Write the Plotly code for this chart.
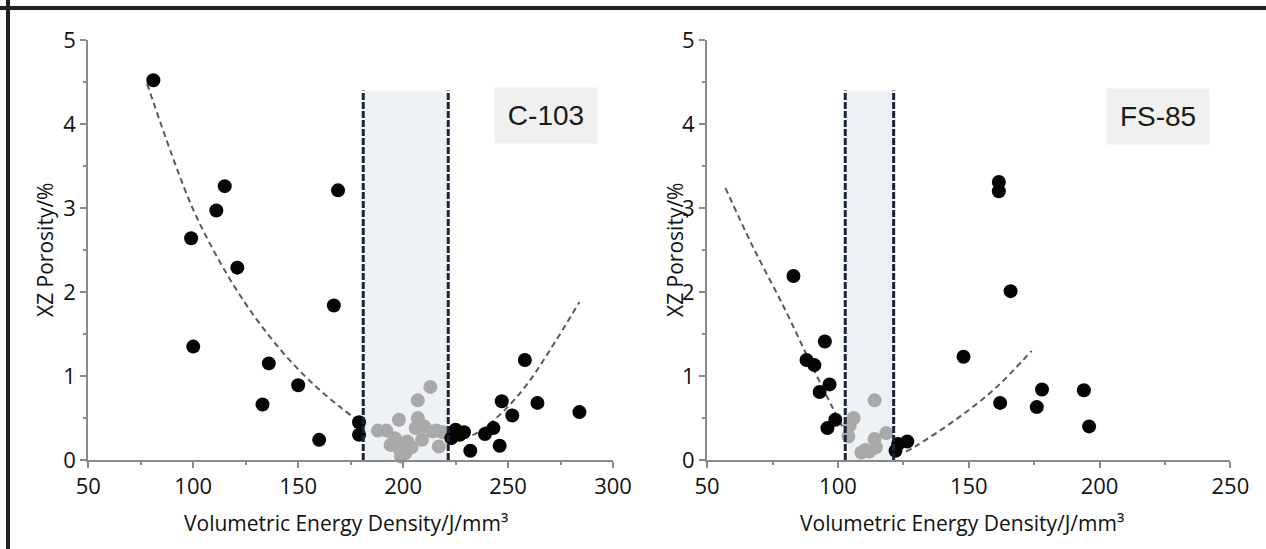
import plotly.graph_objects as go

# ---------------- data ----------------
# C-103
c103_out_x = [81, 99, 100, 111, 115, 121, 133, 136, 150, 160, 167, 169, 179, 179,
              223, 225, 227, 229, 232, 239, 243, 246, 247, 252, 258, 264, 284]
c103_out_y = [4.52, 2.64, 1.35, 2.97, 3.26, 2.29, 0.66, 1.15, 0.89, 0.24, 1.84, 3.21, 0.45, 0.30,
              0.26, 0.36, 0.30, 0.33, 0.11, 0.31, 0.38, 0.17, 0.70, 0.53, 1.19, 0.68, 0.57]
c103_in_x = [188, 192, 194, 196, 198, 198, 199, 201, 202, 204, 206, 207, 207,
             209, 210, 213, 214, 216, 217, 219]
c103_in_y = [0.35, 0.35, 0.18, 0.26, 0.48, 0.14, 0.04, 0.08, 0.22, 0.15, 0.38, 0.50, 0.71,
             0.24, 0.40, 0.87, 0.34, 0.35, 0.16, 0.33]
c103_fit_lo_x = [78, 90, 100, 110, 120, 130, 140, 150, 160, 170, 180]
c103_fit_lo_y = [4.48, 3.62, 2.98, 2.48, 2.05, 1.68, 1.36, 1.08, 0.84, 0.63, 0.44]
c103_fit_hi_x = [224, 235, 247, 259, 270, 284]
c103_fit_hi_y = [0.22, 0.32, 0.56, 0.90, 1.31, 1.88]
c103_window = [181, 221.5]

# FS-85
fs85_out_x = [83, 88, 91, 93, 95, 96, 96.8, 99, 122, 123, 126.5,
              148, 161.5, 161.5, 162, 166, 176, 178, 194, 196]
fs85_out_y = [2.19, 1.19, 1.13, 0.81, 1.41, 0.38, 0.90, 0.48, 0.11, 0.19, 0.22,
              1.23, 3.31, 3.20, 0.68, 2.01, 0.63, 0.84, 0.83, 0.40]
fs85_in_x = [104, 104.5, 106, 109, 110.5, 112, 114, 114, 114.5, 118.5]
fs85_in_y = [0.28, 0.41, 0.50, 0.09, 0.12, 0.10, 0.71, 0.25, 0.15, 0.32]
fs85_fit_lo_x = [57, 67, 79.5, 89, 98, 104]
fs85_fit_lo_y = [3.24, 2.57, 1.81, 1.19, 0.62, 0.26]
fs85_fit_hi_x = [126, 130, 145, 160, 174]
fs85_fit_hi_y = [0.10, 0.17, 0.48, 0.85, 1.30]
fs85_window = [102.8, 121.3]

window_top = 4.4

# ---------------- styling ----------------
W, H = 1266, 549
BLACK = "#050505"
GREY_PT = "#a9a9a9"
FIT = "#5a5a5a"
NAVY = "#1b2436"
BAND = "#eef1f5"
AXIS = "#8a8a8a"
TICKFONT = dict(family="Open Sans", size=22, color="#111111")
TITLEFONT = dict(family="Open Sans", size=21, color="#111111")

fig = go.Figure()


def panel(xa, ya, out_x, out_y, in_x, in_y, lo_x, lo_y, hi_x, hi_y):
    for fx, fy in ((lo_x, lo_y), (hi_x, hi_y)):
        fig.add_trace(go.Scatter(x=fx, y=fy, mode="lines", xaxis=xa, yaxis=ya,
                                 line=dict(color=FIT, width=2, dash="6px,4px", shape="spline"),
                                 hoverinfo="skip", cliponaxis=False))
    fig.add_trace(go.Scatter(x=in_x, y=in_y, mode="markers", xaxis=xa, yaxis=ya,
                             marker=dict(color=GREY_PT, size=14, line=dict(width=0)),
                             cliponaxis=False))
    fig.add_trace(go.Scatter(x=out_x, y=out_y, mode="markers", xaxis=xa, yaxis=ya,
                             marker=dict(color=BLACK, size=14, line=dict(width=0)),
                             cliponaxis=False))


panel("x", "y", c103_out_x, c103_out_y, c103_in_x, c103_in_y,
      c103_fit_lo_x, c103_fit_lo_y, c103_fit_hi_x, c103_fit_hi_y)
panel("x2", "y2", fs85_out_x, fs85_out_y, fs85_in_x, fs85_in_y,
      fs85_fit_lo_x, fs85_fit_lo_y, fs85_fit_hi_x, fs85_fit_hi_y)

shapes = []
for xr, yr, win in (("x", "y", c103_window), ("x2", "y2", fs85_window)):
    shapes.append(dict(type="rect", xref=xr, yref=yr, x0=win[0], x1=win[1], y0=0, y1=window_top,
                       fillcolor=BAND, line=dict(width=0), layer="below"))
    for xv in win:
        shapes.append(dict(type="line", xref=xr, yref=yr, x0=xv, x1=xv, y0=0, y1=window_top,
                           line=dict(color=NAVY, width=3, dash="7px,2px"), layer="above"))

# outer frame (top and left edges)
shapes.append(dict(type="line", xref="paper", yref="paper", x0=0, x1=1,
                   y0=(H - 8) / H, y1=(H - 8) / H, line=dict(color="#222222", width=4)))
shapes.append(dict(type="line", xref="paper", yref="paper", x0=8 / W, x1=8 / W,
                   y0=0, y1=1, line=dict(color="#222222", width=4)))


def xaxis(domain, rng, anchor):
    return dict(domain=domain, range=rng, anchor=anchor, showgrid=False, zeroline=False,
                showline=True, linecolor=AXIS, linewidth=2, ticks="outside", ticklen=6,
                tickwidth=2, tickcolor=AXIS, dtick=50, tickfont=TICKFONT, automargin=False,
                minor=dict(dtick=25, ticks="outside", ticklen=3, tickwidth=2, tickcolor=AXIS))


def yaxis(domain, anchor):
    return dict(domain=domain, range=[0, 5], anchor=anchor, showgrid=False, zeroline=False,
                showline=True, linecolor=AXIS, linewidth=2, ticks="outside", ticklen=6,
                tickwidth=2, tickcolor=AXIS, dtick=1, tickfont=TICKFONT, automargin=False,
                minor=dict(dtick=0.5, ticks="outside", ticklen=3, tickwidth=2, tickcolor=AXIS))


ydom = [(H - 460) / H, (H - 40) / H]
annotations = []
for xr, yr, name, cx, cy in (("x", "y", "C-103", 268, 4.10), ("x2", "y2", "FS-85", 222.4, 4.09)):
    annotations.append(dict(xref=xr, yref=yr, x=cx, y=cy, text=name, showarrow=False,
                            bgcolor="#f0f0f0", width=102, height=55, borderpad=0,
                            font=dict(family="Liberation Sans", size=28, color="#1a1a1a")))
for cx, ty in ((346, 45), (962, 675)):
    annotations.append(dict(xref="paper", yref="paper", x=cx / W, y=(H - 523) / H,
                            text="Volumetric Energy Density/J/mm³", showarrow=False,
                            font=TITLEFONT, xanchor="center", yanchor="middle"))
    annotations.append(dict(xref="paper", yref="paper", x=ty / W, y=(H - 250) / H,
                            text="XZ Porosity/%", showarrow=False, textangle=-90,
                            font=TITLEFONT, xanchor="center", yanchor="middle"))

fig.update_layout(
    width=W, height=H, margin=dict(l=0, r=0, t=0, b=0, pad=0, autoexpand=False),
    paper_bgcolor="white", plot_bgcolor="white", showlegend=False,
    xaxis=xaxis([88.3 / W, 613 / W], [50, 300], "y"),
    yaxis=yaxis(ydom, "x"),
    xaxis2=xaxis([707.1 / W, 1230.4 / W], [50, 250], "y2"),
    yaxis2=yaxis(ydom, "x2"),
    shapes=shapes, annotations=annotations,
)

fig.write_html("out.html")
